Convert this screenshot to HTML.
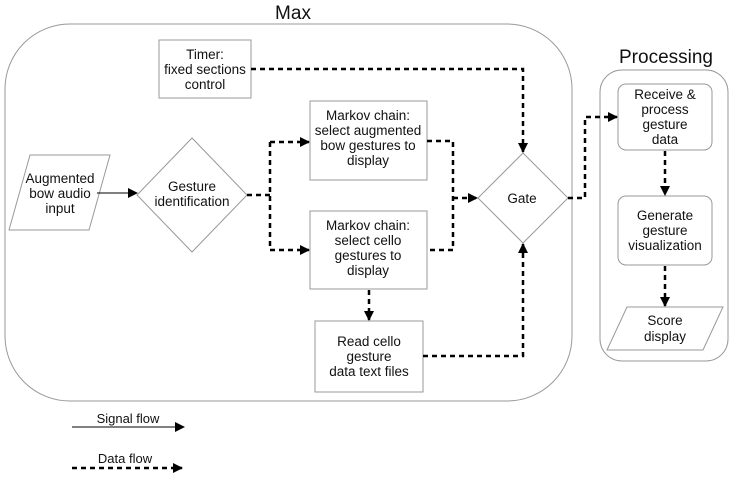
<!DOCTYPE html>
<html><head><style>
body{margin:0;background:#fff;}
svg{display:block;}
text{font-family:"Liberation Sans",sans-serif;font-size:13.5px;fill:#111;text-anchor:middle;}
</style></head><body>
<svg width="732" height="477" viewBox="0 0 732 477" xmlns="http://www.w3.org/2000/svg">
<defs>
<marker id="a" markerWidth="10" markerHeight="10" refX="9" refY="5" orient="auto" markerUnits="userSpaceOnUse"><path d="M0,0 L10,5 L0,10 z" fill="#000"/></marker>
</defs>
<g fill="none" stroke="#999" stroke-width="1">
<rect x="5" y="24" width="567" height="377" rx="65"/>
<rect x="600" y="70" width="128" height="291" rx="22"/>
<rect x="159" y="40" width="92" height="58"/>
<rect x="310" y="101" width="117" height="79"/>
<rect x="310" y="211" width="117" height="78"/>
<rect x="315" y="321" width="108" height="71"/>
<polygon points="30,155 110,155 89,230 9,230"/>
<polygon points="192,138 247,195 192,252 137,195"/>
<polygon points="523,153 568,198 523,243 478,198"/>
<rect x="618" y="84" width="94" height="66" rx="8"/>
<rect x="618" y="196" width="94" height="69" rx="8"/>
<polygon points="627,307 723,307 703,350 607,350"/>
</g>
<text x="293" y="19" style="font-size:19px">Max</text>
<text x="666" y="63" style="font-size:19px">Processing</text>
<text x="205" y="59">Timer:</text><text x="205" y="74">fixed sections</text><text x="205" y="89">control</text>
<text x="368" y="120">Markov chain:</text><text x="368" y="135">select augmented</text><text x="368" y="150">bow gestures to</text><text x="368" y="165">display</text>
<text x="368" y="230">Markov chain:</text><text x="368" y="245">select cello</text><text x="368" y="260">gestures to</text><text x="368" y="275">display</text>
<text x="369" y="346">Read cello</text><text x="369" y="361">gesture</text><text x="369" y="376">data text files</text>
<text x="60" y="183">Augmented</text><text x="60" y="198">bow audio</text><text x="60" y="213">input</text>
<text x="192" y="191">Gesture</text><text x="192" y="206">identification</text>
<text x="522" y="203">Gate</text>
<text x="665" y="99">Receive &amp;</text><text x="665" y="114">process</text><text x="665" y="129">gesture</text><text x="665" y="144">data</text>
<text x="665" y="220">Generate</text><text x="665" y="235">gesture</text><text x="665" y="250">visualization</text>
<text x="665" y="325">Score</text><text x="665" y="341">display</text>
<text x="128" y="423" style="font-size:13px">Signal flow</text>
<text x="125" y="463" style="font-size:13px">Data flow</text>
<g stroke="#000" stroke-width="1" fill="none">
<line x1="97" y1="193" x2="137" y2="193" marker-end="url(#a)"/>
<line x1="72" y1="427" x2="184" y2="427" marker-end="url(#a)"/>
</g>
<g stroke="#000" stroke-width="2.5" fill="none" stroke-dasharray="5,4">
<polyline points="247,195 270,195"/>
<polyline points="270,142 270,250"/>
<polyline points="270,142 309,142" marker-end="url(#a)"/>
<polyline points="270,250 309,250" marker-end="url(#a)"/>
<polyline points="251,69 523,69 523,152" marker-end="url(#a)"/>
<polyline points="427,141 453,141 453,250 427,250"/>
<polyline points="453,198 477,198" marker-end="url(#a)"/>
<polyline points="369,290 369,320" marker-end="url(#a)"/>
<polyline points="423,356 523,356 523,244" marker-end="url(#a)"/>
<polyline points="568,198 585,198 585,117 617,117" marker-end="url(#a)"/>
<polyline points="665,151 665,195" marker-end="url(#a)"/>
<polyline points="665,266 665,306" marker-end="url(#a)"/>
<polyline points="72,468 182,468" marker-end="url(#a)"/>
</g>
</svg>
</body></html>
